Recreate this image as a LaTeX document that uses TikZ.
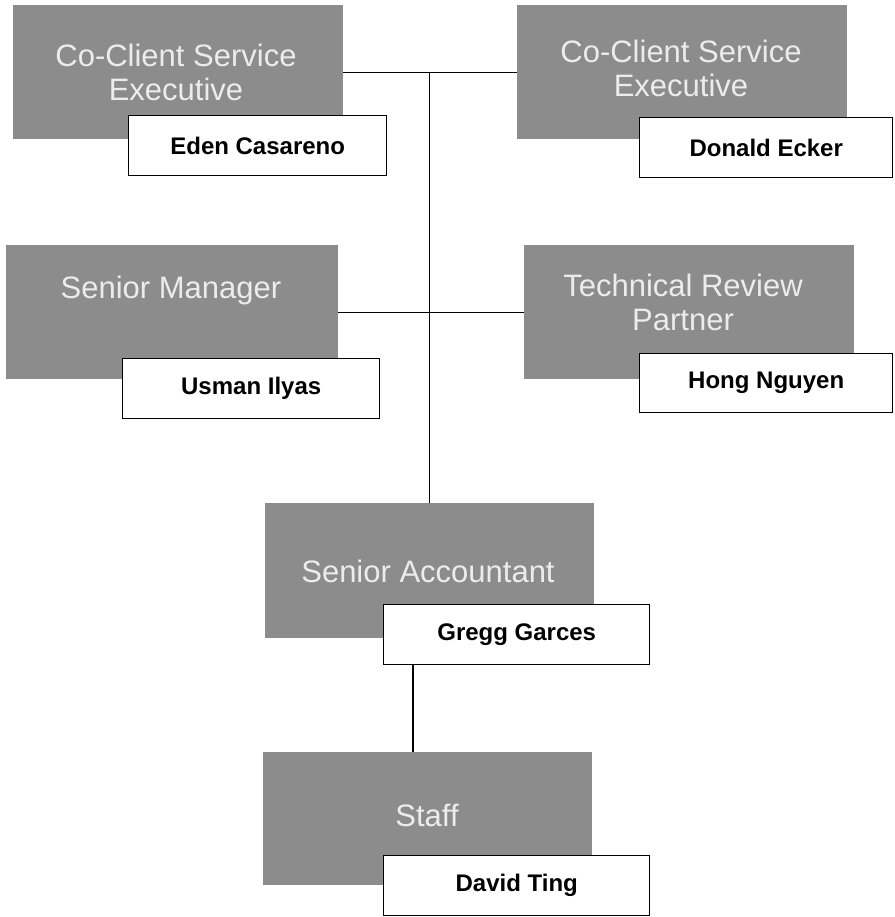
\documentclass[tikz,border=0pt]{standalone}
\usepackage{fontspec}
\setmainfont{Liberation Sans}
\definecolor{boxgray}{RGB}{140,140,140}
\definecolor{titlewhite}{RGB}{236,236,236}
\tikzset{
  rolebox/.style={fill=boxgray, draw=none, inner sep=0pt, anchor=north west},
  roletext/.style={text=titlewhite, align=center, inner sep=0pt,
    font=\fontsize{31}{34}\selectfont},
  namebox/.style={fill=white, draw=black, line width=1.4pt, inner sep=0pt, anchor=north west,
    font=\fontsize{24}{28}\selectfont\bfseries},
  link/.style={draw=black, line width=1.3pt}
}
\begin{document}
\begin{tikzpicture}[x=1pt, y=-1pt]
\useasboundingbox (0,0) rectangle (894,917);
\fill[white] (0,0) rectangle (894,917);

% role boxes
\node[rolebox, minimum width=330pt, minimum height=134pt] (cse1) at (13,5) {};
\node[rolebox, minimum width=330pt, minimum height=134pt] (cse2) at (517,5) {};
\node[rolebox, minimum width=332pt, minimum height=134pt] (sm) at (6,245) {};
\node[rolebox, minimum width=330pt, minimum height=134pt] (trp) at (524,245) {};
\node[rolebox, minimum width=329pt, minimum height=135pt] (sa) at (265,503) {};
\node[rolebox, minimum width=329pt, minimum height=133pt] (st) at (263,752) {};

% role titles
\node[roletext] (cse1t) at (176,72) {Co-Client Service\\Executive};
\node[roletext] (cse2t) at (681,68) {Co-Client Service\\Executive};
\node[roletext] (smt) at (171,290) {Senior Manager};
\node[roletext] (trpt) at (683,302) {Technical Review\\Partner};
\node[roletext] (sat) at (428,571) {Senior Accountant};
\node[roletext] (stt) at (427,815) {Staff};

% name boxes
\node[namebox, minimum width=258pt, minimum height=60pt] (n1) at (128,115) {Eden Casareno};
\node[namebox, minimum width=253pt, minimum height=60pt] (n2) at (639,117) {Donald Ecker};
\node[namebox, minimum width=257pt, minimum height=60pt] (n3) at (122,358) {Usman Ilyas};
\node[namebox, minimum width=253pt, minimum height=59pt] (n4) at (639,353) {Hong Nguyen};
\node[namebox, minimum width=266pt, minimum height=60pt] (n5) at (383,604) {Gregg Garces};
\node[namebox, minimum width=266pt, minimum height=60pt] (n6) at (383,855) {David Ting};

% connectors
\draw[link] (cse1.east) -- (cse2.west);
\draw[link] (sm.east) -- (trp.west);
\draw[link] (sa.north) -- (sa.north |- cse1.east);
\draw[link] ([xshift=30pt]n5.south west) -- ([xshift=30pt]n5.south west |- st.north);
\end{tikzpicture}
\end{document}
